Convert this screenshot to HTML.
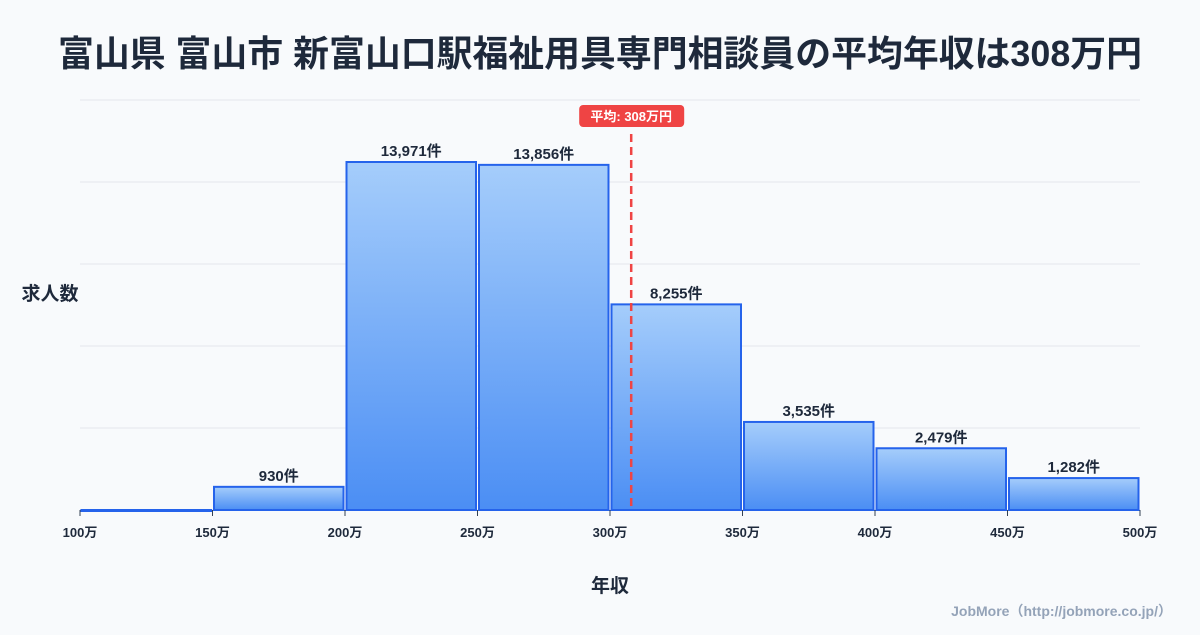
<!DOCTYPE html>
<html><head><meta charset="utf-8"><style>
body{margin:0;background:#f8fafc;width:1200px;height:630px;overflow:hidden;font-family:"Liberation Sans","Noto Sans CJK JP",sans-serif}
</style></head><body>
<svg width="1200" height="630" xmlns="http://www.w3.org/2000/svg">
<defs><linearGradient id="g" x1="0" y1="0" x2="0" y2="1"><stop offset="0" stop-color="#a5cdfb"/><stop offset="1" stop-color="#4b8ef4"/></linearGradient></defs>
<text x="600" y="66" text-anchor="middle" font-size="36" font-weight="bold" fill="#1e293b" textLength="1084" lengthAdjust="spacingAndGlyphs" font-family="Liberation Sans,Noto Sans CJK JP,sans-serif">富山県 富山市 新富山口駅福祉用具専門相談員の平均年収は308万円</text>
<g id="grid"></g><g id="bars"></g><g id="xt"></g>
<text x="50" y="300" text-anchor="middle" font-size="19" font-weight="bold" fill="#1e293b">求人数</text>
<text x="610" y="592" text-anchor="middle" font-size="19" font-weight="bold" fill="#1e293b">年収</text>
<text x="1172" y="616" text-anchor="end" font-size="14" font-weight="bold" fill="#94a3b8">JobMore（http://jobmore.co.jp/）</text>
<g id="mean"></g>
</svg>
<script>
const binStarts=[100,150,200,250,300,350,400,450];
const counts=[0,930,13971,13856,8255,3535,2479,1282];
const xTicks=[100,150,200,250,300,350,400,450,500];
const meanValue=308;
const NS="http://www.w3.org/2000/svg";
const X0=80,X1=1140,Y0=510,Y1=100,XMIN=100,XMAX=500,YMAX=16460;
const xs=v=>X0+(v-XMIN)/(XMAX-XMIN)*(X1-X0);
const ys=v=>Y0-v/YMAX*(Y0-Y1);
function mk(t,a,p){const e=document.createElementNS(NS,t);for(const k in a)e.setAttribute(k,a[k]);p.appendChild(e);return e;}
const grid=document.getElementById('grid');
for(let i=0;i<=5;i++){const y=Y0-i*(Y0-Y1)/5;const l=mk('line',{x1:X0,x2:X1,y1:y,y2:y,stroke:i?'#e5e7eb':'#cbd5e1','stroke-width':1},grid);

}
const bars=document.getElementById('bars');
binStarts.forEach((b,i)=>{const x=xs(b)+1.5,w=xs(b+50)-xs(b)-3,y=ys(counts[i]);
const r=mk('rect',{x:x,y:y,width:w,height:Math.max(Y0-y,1),fill:'url(#g)',stroke:'#2563eb','stroke-width':2},bars);


if(counts[i]>0){const t=mk('text',{x:x+w/2,y:y-6,'text-anchor':'middle','font-size':15,'font-weight':'bold',fill:'#1e293b'},bars);t.textContent=counts[i].toLocaleString('en-US')+'件';

}});
const xt=document.getElementById('xt');
xTicks.forEach(v=>{const x=xs(v);const l=mk('line',{x1:x,x2:x,y1:Y0,y2:Y0+6,stroke:'#334155'},xt);


const t=mk('text',{x:x,y:537,'text-anchor':'middle','font-size':13,'font-weight':'bold',fill:'#1e293b'},xt);t.textContent=v+'万';

});
const mg=document.getElementById('mean');const mx=xs(meanValue);
const ml=mk('line',{x1:mx,x2:mx,y1:134,y2:Y0,stroke:'#ef4444','stroke-width':2.5,'stroke-dasharray':'8,5'},mg);


const mr=mk('rect',{x:mx-52,y:105,width:105,height:22,rx:4,fill:'#ef4444'},mg);


const mt=mk('text',{x:mx,y:121,'text-anchor':'middle','font-size':13,'font-weight':'bold',fill:'#fff'},mg);mt.textContent='平均: '+meanValue+'万円';


</script>
</body></html>
